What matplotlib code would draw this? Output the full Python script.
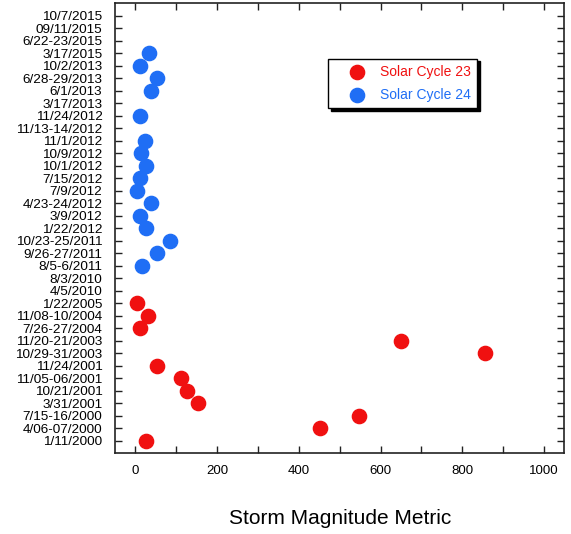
import matplotlib
matplotlib.use("Agg")
import matplotlib.pyplot as plt
from matplotlib.ticker import MultipleLocator

plt.rcParams['font.family'] = ['Liberation Sans', 'DejaVu Sans']

# storm dates, bottom to top
dates = ['1/11/2000', '4/06-07/2000', '7/15-16/2000', '3/31/2001', '10/21/2001',
         '11/05-06/2001', '11/24/2001', '10/29-31/2003', '11/20-21/2003',
         '7/26-27/2004', '11/08-10/2004', '1/22/2005', '4/5/2010', '8/3/2010',
         '8/5-6/2011', '9/26-27/2011', '10/23-25/2011', '1/22/2012', '3/9/2012',
         '4/23-24/2012', '7/9/2012', '7/15/2012', '10/1/2012', '10/9/2012',
         '11/1/2012', '11/13-14/2012', '11/24/2012', '3/17/2013', '6/1/2013',
         '6/28-29/2013', '10/2/2013', '3/17/2015', '6/22-23/2015', '09/11/2015',
         '10/7/2015']

cycle23_dates = ['1/11/2000', '4/06-07/2000', '7/15-16/2000', '3/31/2001',
                 '10/21/2001', '11/05-06/2001', '11/24/2001', '10/29-31/2003',
                 '11/20-21/2003', '7/26-27/2004', '11/08-10/2004', '1/22/2005']
cycle23_values = [25, 451, 547, 154, 125, 111, 54, 855, 650, 11, 31, 5]

cycle24_dates = ['8/5-6/2011', '9/26-27/2011', '10/23-25/2011', '1/22/2012',
                 '3/9/2012', '4/23-24/2012', '7/9/2012', '7/15/2012', '10/1/2012',
                 '10/9/2012', '11/1/2012', '11/24/2012', '6/1/2013',
                 '6/28-29/2013', '10/2/2013', '3/17/2015']
cycle24_values = [17, 53, 84, 27, 12, 37, 5, 12, 27, 14, 24, 12, 39, 53, 12, 32]

red = '#f01010'
blue = '#1f6ef5'

fig = plt.figure(figsize=(5.71, 5.34), dpi=100)
ax = fig.add_axes([0.2014, 0.1517, 0.7872, 0.8421])

y23 = [dates.index(d) for d in cycle23_dates]
y24 = [dates.index(d) for d in cycle24_dates]
ax.scatter(cycle23_values, y23, s=105, color=red, label='Solar Cycle 23', zorder=3)
ax.scatter(cycle24_values, y24, s=105, color=blue, label='Solar Cycle 24', zorder=3)

ax.set_xlim(-50, 1050)
ax.set_ylim(-1, 35)
ax.set_yticks(range(len(dates)))
ax.set_yticklabels(dates)
ax.xaxis.set_major_locator(MultipleLocator(200))
ax.xaxis.set_minor_locator(MultipleLocator(100))

ax.tick_params(axis='both', which='both', direction='in', top=True, right=True,
               color='#222222', width=1)
ax.tick_params(axis='y', which='major', length=5, pad=9, labelsize=9.7)
ax.tick_params(axis='x', which='major', length=5, pad=9, labelsize=9.5)
ax.tick_params(axis='x', which='minor', length=5)
for s in ax.spines.values():
    s.set_linewidth(1.2)
    s.set_color('#222222')

ax.set_xlabel('Storm Magnitude Metric', fontsize=15, labelpad=23)

leg = ax.legend(loc='upper left', bbox_to_anchor=(0.474, 0.877), fontsize=10,
                frameon=True, fancybox=False, edgecolor='black', framealpha=1,
                borderpad=0.45, handlelength=3.2, handletextpad=0.1,
                labelspacing=0.63, borderaxespad=0, labelcolor=[red, blue],
                shadow={'color': 'black', 'alpha': 1, 'ox': 2, 'oy': -2})
leg.get_frame().set_linewidth(1.0)

fig.savefig('out.png', dpi=100)
